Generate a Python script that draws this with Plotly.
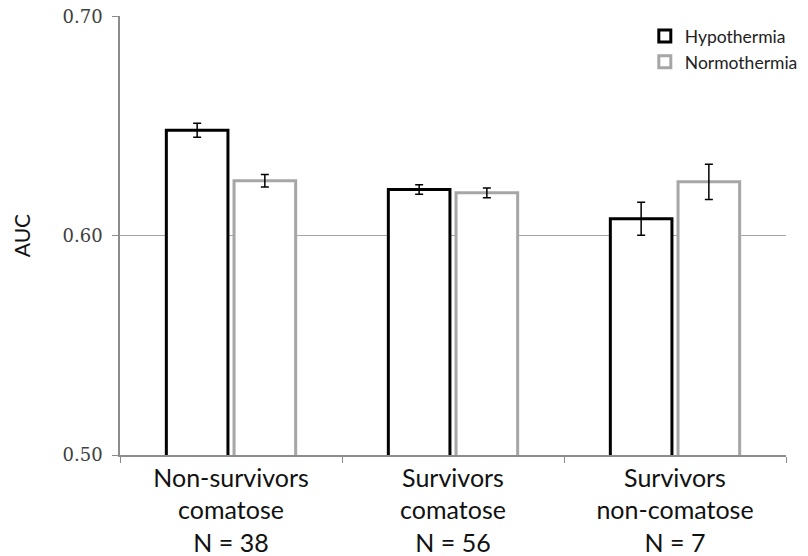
import plotly.graph_objects as go

categories = ["Non-survivors<br>comatose<br>N = 38", "Survivors<br>comatose<br>N = 56", "Survivors<br>non-comatose<br>N = 7"]
hypo_vals = [0.648, 0.621, 0.6077]
hypo_err = [0.0032, 0.0022, 0.0075]
normo_vals = [0.625, 0.6195, 0.6245]
normo_err = [0.0028, 0.0022, 0.0080]

fig = go.Figure()
fig.add_trace(go.Bar(
    name="Hypothermia", x=categories, y=hypo_vals,
    marker=dict(color="white", line=dict(color="black", width=3)),
    error_y=dict(type="data", array=hypo_err, color="black", thickness=1.5, width=4),
))
fig.add_trace(go.Bar(
    name="Normothermia", x=categories, y=normo_vals,
    marker=dict(color="white", line=dict(color="#a6a6a6", width=3)),
    error_y=dict(type="data", array=normo_err, color="black", thickness=1.5, width=4),
))

fig.update_layout(
    width=808, height=556,
    margin=dict(l=120, r=22, t=16, b=101, autoexpand=False),
    plot_bgcolor="white", paper_bgcolor="white",
    barmode="group", bargap=0.39, bargroupgap=0.09,
    showlegend=True,
    legend=dict(x=0.788, y=0.995, xanchor="left", yanchor="top",
                font=dict(family="Lato, Open Sans, sans-serif", size=17.5, color="#222"),
                bgcolor="rgba(0,0,0,0)", tracegroupgap=0, itemwidth=30),
    font=dict(family="Lato, sans-serif", color="#222"),
)
fig.update_yaxes(
    automargin=False,
    range=[0.50, 0.7001], tickvals=[0.50, 0.60, 0.70], ticktext=["0.50", "0.60", "0.70"],
    ticklabeloverflow="allow",
    showgrid=True, gridcolor="#a6a6a6", gridwidth=1,
    showline=True, linecolor="#8c8c8c", linewidth=1.5,
    ticks="outside", ticklen=6, tickcolor="#8c8c8c",
    ticklabelstandoff=6,
    tickfont=dict(family="DejaVu Serif, serif", size=18, color="#404040"),
    title=dict(text="AUC", font=dict(family="Lato, sans-serif", size=21, color="#111"), standoff=26),
    zeroline=False,
)
fig.update_xaxes(
    automargin=False,
    showline=True, linecolor="#8c8c8c", linewidth=1.5,
    ticks="outside", tickson="boundaries", ticklen=6, tickcolor="#8c8c8c",
    tickfont=dict(family="Lato, sans-serif", size=25, color="#111"),
)

# remove the browser's default 8px body margin so the figure sits at the page corner
fig.write_html("out.html", config={"displayModeBar": False},
               post_script="document.body.style.margin='0px';")
